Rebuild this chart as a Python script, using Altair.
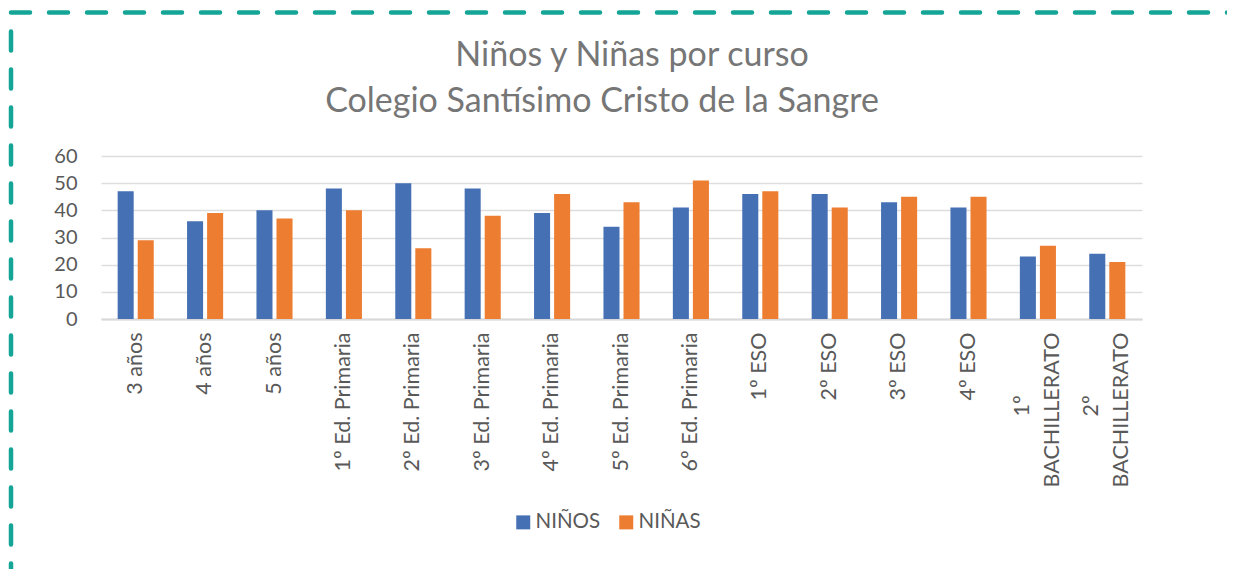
import altair as alt
import pandas as pd

categories = ["3 años", "4 años", "5 años", "1º Ed. Primaria", "2º Ed. Primaria",
              "3º Ed. Primaria", "4º Ed. Primaria", "5º Ed. Primaria", "6º Ed. Primaria",
              "1º ESO", "2º ESO", "3º ESO", "4º ESO", "1º\nBACHILLERATO", "2º\nBACHILLERATO"]
ninos = [47, 36, 40, 48, 50, 48, 39, 34, 41, 46, 46, 43, 41, 23, 24]
ninas = [29, 39, 37, 40, 26, 38, 46, 43, 51, 47, 41, 45, 45, 27, 21]
series = ["NIÑOS", "NIÑAS"]
colors = ["#4670B4", "#ED7D31"]
y_ticks = [0, 10, 20, 30, 40, 50, 60]
title_lines = ["Niños y Niñas por curso", "Colegio Santísimo Cristo de la Sangre"]

rows = []
for c, a, b in zip(categories, ninos, ninas):
    rows.append({"curso": c, "grupo": series[0], "valor": a})
    rows.append({"curso": c, "grupo": series[1], "valor": b})
df = pd.DataFrame(rows)

# first line of the two-line course labels, drawn as its own text layer
first_lines = pd.DataFrame([
    {"curso": c, "linea": c.split("\n")[0]} for c in categories if "\n" in c
])

FONT = "Lato"
GREY = "#595959"
TEAL = "#14A596"
W, H = 1041, 163
XLAB = 21.5

label_expr = ("indexof(datum.label, '\\n') >= 0 ? split(datum.label, '\\n')[1] : datum.label")
two_line_test = "indexof(datum.value, '\\n') >= 0"

bars = alt.Chart(df).mark_bar().encode(
    x=alt.X("curso:N", sort=categories, title=None,
            scale=alt.Scale(paddingInner=0.48, paddingOuter=0.24),
            axis=alt.Axis(labelAngle=270, labelAlign="right", labelBaseline="middle",
                          labelPadding=13, ticks=False, domainColor="#D9D9D9", domainWidth=2,
                          labelFontSize=XLAB, labelExpr=label_expr, labelLimit=300,
                          labelOffset={"condition": {"test": two_line_test, "value": 15},
                                       "value": 0})),
    xOffset=alt.XOffset("grupo:N", sort=series, scale=alt.Scale(paddingInner=0.2)),
    y=alt.Y("valor:Q", title=None, scale=alt.Scale(domain=[0, 60]),
            axis=alt.Axis(values=y_ticks, domain=False, ticks=False, labelPadding=24,
                          labelFontSize=20, gridColor="#DDDDDD", gridWidth=1.5)),
    color=alt.Color("grupo:N", sort=series,
                    scale=alt.Scale(domain=series, range=colors),
                    legend=alt.Legend(title=None, orient="none", legendX=412, legendY=356,
                                      direction="horizontal", symbolType="square",
                                      symbolSize=196, labelFontSize=20.5, labelColor=GREY,
                                      labelFont=FONT, columnPadding=15, labelOffset=2,
                                      symbolStrokeWidth=0)),
)

first_line_text = alt.Chart(first_lines).mark_text(
    font=FONT, fontSize=XLAB, color=GREY, angle=270, align="center", baseline="middle",
    dy=-15
).encode(x=alt.X("curso:N", sort=categories), y=alt.value(250), text="linea:N")

t1 = alt.Chart(pd.DataFrame({"t": [title_lines[0]]})).mark_text(
    font=FONT, fontSize=34, color="#767676", align="center", baseline="alphabetic"
).encode(text="t:N", x=alt.value(531), y=alt.value(-90))

t2 = alt.Chart(pd.DataFrame({"t": [title_lines[1]]})).mark_text(
    font=FONT, fontSize=34, color="#767676", align="center", baseline="alphabetic"
).encode(text="t:N", x=alt.value(501), y=alt.value(-44))

frame = pd.DataFrame({"k": [0]})
top_line = alt.Chart(frame).mark_rule(
    color=TEAL, strokeWidth=4.5, strokeDash=[19, 19], strokeCap="round"
).encode(x=alt.value(-90), x2=alt.value(1140), y=alt.value(-143.5))
left_line = alt.Chart(frame).mark_rule(
    color=TEAL, strokeWidth=4.5, strokeDash=[19, 19], strokeCap="round", strokeDashOffset=19
).encode(x=alt.value(-90), y=alt.value(-143.5), y2=alt.value(415))

chart = alt.layer(bars, first_line_text, t1, t2, top_line, left_line).properties(
    width=W, height=H,
    autosize=alt.AutoSizeParams(type="none"),
    padding={"left": 93, "top": 148, "right": 85, "bottom": 250},
).configure_view(stroke=None).configure_axis(
    labelFont=FONT, labelColor=GREY
)

chart.save("out.html", embed_options={"renderer": "svg", "actions": False})
